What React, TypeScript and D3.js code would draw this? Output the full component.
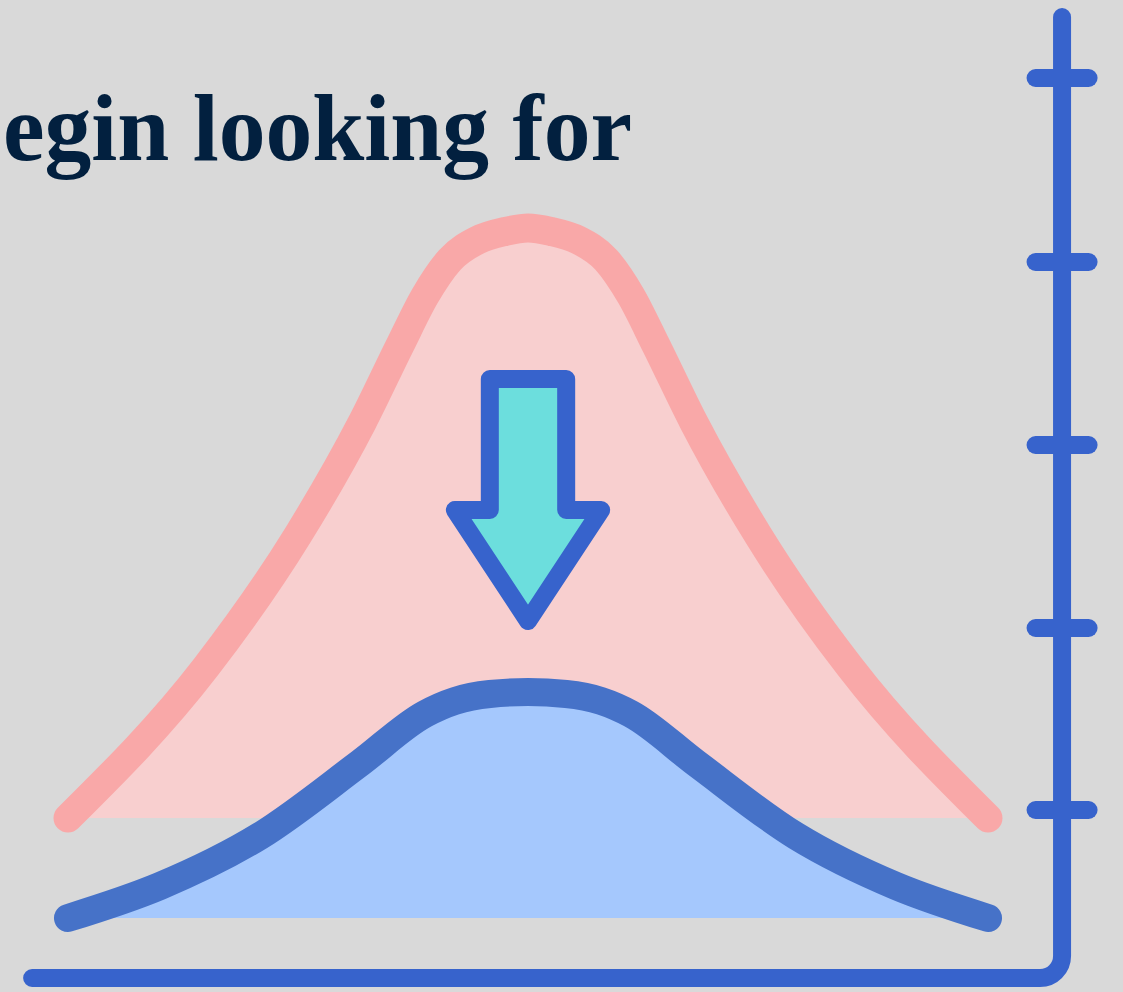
import React from "react";
import * as d3 from "d3";

const W = 1123;
const H = 992;

// time units (centre = 0) and height values above the baseline axis
const pinkT = [-10, -7, -5, -3.6, -2.78, -2.24, -1.7, -1.09, -0.5, 0, 0.5, 1.09, 1.7, 2.24, 2.78, 3.6, 5, 7, 10];
const pinkV = [160, 311, 443, 556, 633, 682, 718, 738, 746.5, 750, 746.5, 738, 718, 682, 633, 556, 443, 311, 160];
const pinkBase = 160;

const blueT = [-10, -8, -5.83, -3.65, -2.24, -1.59, -0.83, 0, 0.83, 1.59, 2.24, 3.65, 5.83, 8, 10];
const blueV = [60, 92, 142, 215, 264, 277, 284, 286, 284, 277, 264, 215, 142, 92, 60];
const blueBase = 60;

const tickValues = [168, 350, 533, 716, 900];

// arrow annotation (in data units)
const arrowT = 0;
const arrowTop = 599;
const arrowHeadBase = 468;
const arrowTip = 357;
const arrowShaftHalf = 0.83;
const arrowHeadHalf = 1.59;

// axis extents (in data units)
const axisT = 11.61;
const axisLeftT = -10.78;
const axisTopV = 961;
const axisBottomV = 0;

const titleText = "egin looking for";

export default function App() {
  const x = d3.scaleLinear().domain([-10, 10]).range([68, 988]);
  const y = d3.scaleLinear().domain([0, 1000]).range([978, -22]);

  const curve = d3.curveMonotoneX;

  const pinkPts = pinkT.map((t, i) => [t, pinkV[i]] as [number, number]);
  const bluePts = blueT.map((t, i) => [t, blueV[i]] as [number, number]);

  const line = d3
    .line<[number, number]>()
    .x((d) => x(d[0]))
    .y((d) => y(d[1]))
    .curve(curve);

  const pinkArea = d3
    .area<[number, number]>()
    .x((d) => x(d[0]))
    .y0(y(pinkBase))
    .y1((d) => y(d[1]))
    .curve(curve);

  const blueArea = d3
    .area<[number, number]>()
    .x((d) => x(d[0]))
    .y0(y(blueBase))
    .y1((d) => y(d[1]))
    .curve(curve);

  const arrowPts: [number, number][] = [
    [arrowT - arrowShaftHalf, arrowTop],
    [arrowT + arrowShaftHalf, arrowTop],
    [arrowT + arrowShaftHalf, arrowHeadBase],
    [arrowT + arrowHeadHalf, arrowHeadBase],
    [arrowT, arrowTip],
    [arrowT - arrowHeadHalf, arrowHeadBase],
    [arrowT - arrowShaftHalf, arrowHeadBase],
  ];
  const arrowPath =
    d3.line<[number, number]>().x((d) => x(d[0])).y((d) => y(d[1]))(arrowPts) + "Z";

  const r = 22;
  const ax = x(axisT);
  const ab = y(axisBottomV);
  const p = d3.path();
  p.moveTo(ax, y(axisTopV));
  p.lineTo(ax, ab - r);
  p.arcTo(ax, ab, ax - r, ab, r);
  p.lineTo(x(axisLeftT), ab);

  const tickHalf = 0.576;

  return (
    <svg
      width={W}
      height={H}
      style={{ position: "absolute", left: 0, top: 0, display: "block" }}
    >
      <rect x={0} y={0} width={W} height={H} fill="#d9d9d9" />
      <text
        x={3}
        y={160}
        fontFamily="'Liberation Serif', 'Times New Roman', serif"
        fontWeight="bold"
        fontSize={95}
        fill="#02203f"
        textLength={629}
        lengthAdjust="spacingAndGlyphs"
      >
        {titleText}
      </text>

      <path d={pinkArea(pinkPts) || ""} fill="#f8cfcf" />
      <path
        d={line(pinkPts) || ""}
        fill="none"
        stroke="#f9a8a8"
        strokeWidth={29}
        strokeLinecap="round"
        strokeLinejoin="round"
      />

      <path d={blueArea(bluePts) || ""} fill="#a5c8fd" />
      <path
        d={line(bluePts) || ""}
        fill="none"
        stroke="#4672c8"
        strokeWidth={28}
        strokeLinecap="round"
        strokeLinejoin="round"
      />

      <path
        d={arrowPath}
        fill="#6cdedd"
        stroke="#3763cc"
        strokeWidth={18}
        strokeLinejoin="round"
      />

      <path
        d={p.toString()}
        fill="none"
        stroke="#3763cc"
        strokeWidth={18}
        strokeLinecap="round"
        strokeLinejoin="round"
      />
      {tickValues.map((v) => (
        <line
          key={v}
          x1={x(axisT - tickHalf)}
          x2={x(axisT + tickHalf)}
          y1={y(v)}
          y2={y(v)}
          stroke="#3763cc"
          strokeWidth={18}
          strokeLinecap="round"
        />
      ))}
    </svg>
  );
}
